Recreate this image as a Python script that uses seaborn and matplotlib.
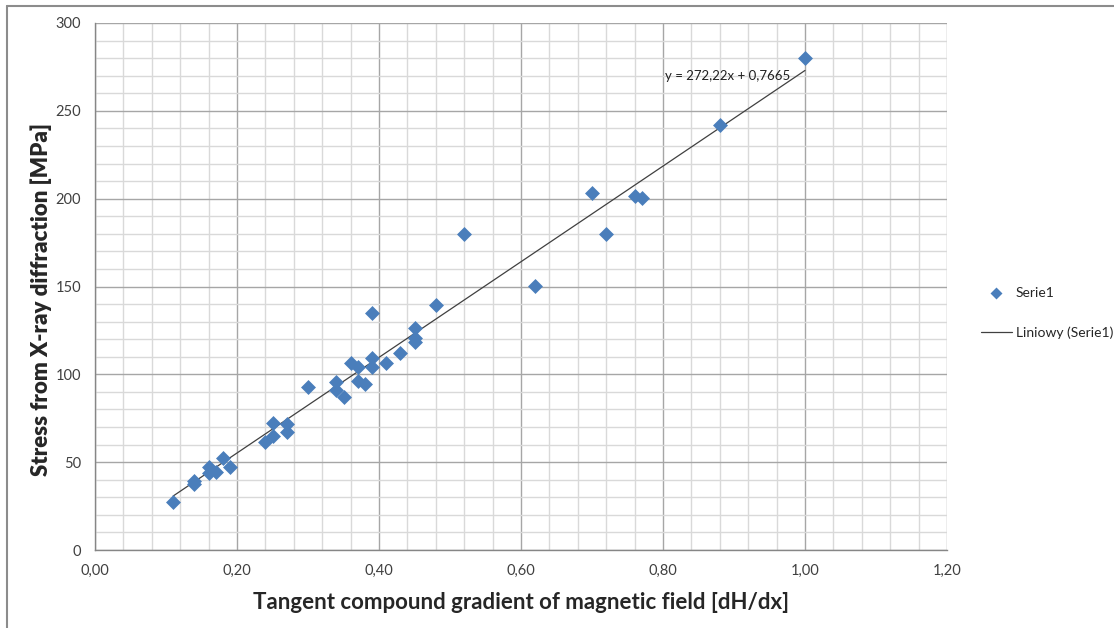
import numpy as np
import pandas as pd
import seaborn as sns
from matplotlib import pyplot as plt
from matplotlib.lines import Line2D
from matplotlib.ticker import MultipleLocator, FuncFormatter

# data
gradient = [0.11, 0.14, 0.14, 0.16, 0.16, 0.17, 0.18, 0.19, 0.24, 0.25,
            0.25, 0.27, 0.27, 0.30, 0.34, 0.34, 0.35, 0.36, 0.37, 0.37,
            0.38, 0.39, 0.39, 0.39, 0.41, 0.43, 0.45, 0.45, 0.45, 0.48,
            0.52, 0.62, 0.70, 0.72, 0.76, 0.77, 0.88, 1.00]
stress = [27.5, 39.3, 37.4, 47.4, 44.0, 44.6, 52.2, 47.4, 61.6, 64.9,
          72.1, 71.5, 67.4, 92.9, 95.8, 91.1, 87.3, 106.6, 104.0, 96.2,
          94.5, 135.0, 109.1, 104.3, 106.6, 111.9, 126.5, 120.5, 118.6, 139.4,
          179.8, 150.3, 203.4, 179.8, 201.5, 200.2, 241.9, 279.8]
trend_slope = 272.22
trend_intercept = 0.7665
equation = 'y = 272,22x + 0,7665'

df = pd.DataFrame({'x': gradient, 'y': stress})

sns.set_style('white')
plt.rcParams['font.family'] = ['Lato', 'DejaVu Sans']

fig = plt.figure(figsize=(11.14, 6.28), dpi=100)
ax = fig.add_axes([95 / 1114, 1 - 550 / 628, (947 - 95) / 1114, (550 - 23) / 628])

blue = '#4a7ebb'
sns.scatterplot(x='x', y='y', data=df, marker='D', s=58, color=blue,
                edgecolor=blue, linewidth=0, ax=ax, zorder=3, label='Serie1')

# linear trend line across data range
xl = np.array([df['x'].min(), df['x'].max()])
sns.lineplot(x=xl, y=trend_intercept + trend_slope * xl, color='#404040',
             lw=0.9, ax=ax, zorder=2, label='Liniowy (Serie1)')

ax.set_xlim(0, 1.2)
ax.set_ylim(0, 300)
ax.xaxis.set_major_locator(MultipleLocator(0.2))
ax.xaxis.set_minor_locator(MultipleLocator(0.04))
ax.yaxis.set_major_locator(MultipleLocator(50))
ax.yaxis.set_minor_locator(MultipleLocator(10))
ax.xaxis.set_major_formatter(FuncFormatter(lambda v, p: f'{v:.2f}'.replace('.', ',')))
ax.yaxis.set_major_formatter(FuncFormatter(lambda v, p: f'{v:.0f}'))

ax.grid(which='minor', color='#d9d9d9', lw=1)
ax.grid(which='major', color='#a6a6a6', lw=1)
ax.set_axisbelow(True)
for s in ['top', 'right']:
    ax.spines[s].set_visible(False)
for s in ['left', 'bottom']:
    ax.spines[s].set_color('#868686')
    ax.spines[s].set_linewidth(1)

ax.tick_params(axis='y', which='major', length=4, color='#868686', labelsize=10.5,
               labelcolor='#404040', pad=6)
ax.tick_params(axis='x', which='major', length=0, labelsize=10.5,
               labelcolor='#404040', pad=10)
ax.tick_params(which='minor', length=0)

ax.set_xlabel('Tangent compound gradient of magnetic field [dH/dx]',
              fontsize=16, fontweight='bold', labelpad=10)
ax.set_ylabel('Stress from X-ray diffraction [MPa]',
              fontsize=16, fontweight='heavy')
ax.yaxis.set_label_coords(-0.05, 0.475)

ax.text(0.803, 270, equation, fontsize=9.5, color='#202020', ha='left', va='center')

ax.legend(loc='center left', bbox_to_anchor=(981 / 1114, 1 - 313 / 628),
          bbox_transform=fig.transFigure, frameon=False, fontsize=10,
          labelspacing=2.0, handlelength=2.2, handletextpad=0.3,
          markerscale=0.8, borderpad=0, borderaxespad=0)

# outer chart frame
fig.add_artist(Line2D([7 / 1114, 7 / 1114], [0, 1 - 6 / 628],
                      transform=fig.transFigure, color='#8c8c8c', lw=1.5))
fig.add_artist(Line2D([7 / 1114, 1], [1 - 6 / 628, 1 - 6 / 628],
                      transform=fig.transFigure, color='#8c8c8c', lw=1.5))

plt.savefig('out.png', dpi=100)
